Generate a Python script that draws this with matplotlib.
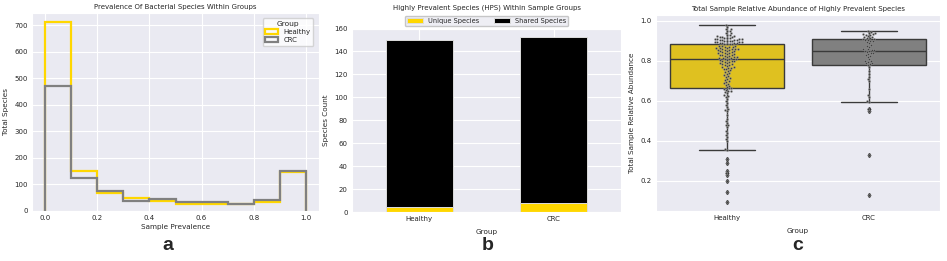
import matplotlib
matplotlib.use("Agg")
import matplotlib.pyplot as plt
import numpy as np
import pandas as pd
import seaborn as sns

# ---------------- data ----------------
bin_edges = [0.0, 0.1, 0.2, 0.3, 0.4, 0.5, 0.6, 0.7, 0.8, 0.9, 1.0]
healthy_counts = [711, 151, 68, 48, 38, 24, 24, 25, 33, 146]
crc_counts = [471, 123, 75, 37, 44, 34, 31, 24, 39, 151]

groups = ["Healthy", "CRC"]
unique_species = [5, 8]
shared_species = [145, 145]

healthy_abund = [
    0.095, 0.145, 0.20, 0.23, 0.24, 0.25, 0.29, 0.31,
    0.355, 0.36, 0.40, 0.41, 0.42, 0.43, 0.44, 0.45, 0.47, 0.48, 0.48, 0.49,
    0.50, 0.51, 0.53, 0.55, 0.555, 0.56, 0.57, 0.58, 0.59, 0.60, 0.61, 0.62,
    0.625, 0.63, 0.64, 0.645, 0.65, 0.65, 0.655, 0.658,
    0.662, 0.665, 0.67, 0.675, 0.68, 0.685, 0.69, 0.695, 0.70, 0.705,
    0.71, 0.715, 0.72, 0.725, 0.73, 0.735, 0.74, 0.745, 0.75, 0.755,
    0.76, 0.76, 0.765, 0.765, 0.77, 0.77, 0.775, 0.78, 0.78, 0.785,
    0.785, 0.79, 0.79, 0.795, 0.795, 0.80, 0.80, 0.80, 0.803, 0.805,
    0.81, 0.81, 0.81, 0.815, 0.815, 0.815, 0.82, 0.82, 0.82, 0.825,
    0.825, 0.83, 0.83, 0.83, 0.835, 0.835, 0.84, 0.84, 0.84, 0.845,
    0.845, 0.85, 0.85, 0.85, 0.855, 0.855, 0.855, 0.86, 0.86, 0.86,
    0.86, 0.865, 0.865, 0.865, 0.87, 0.87, 0.87, 0.875, 0.875, 0.875,
    0.885, 0.885, 0.885, 0.885, 0.89, 0.89, 0.89, 0.89, 0.895, 0.895,
    0.895, 0.895, 0.90, 0.90, 0.90, 0.90, 0.905, 0.905, 0.905, 0.905,
    0.91, 0.91, 0.91, 0.91, 0.915, 0.915, 0.915, 0.92, 0.92, 0.92,
    0.925, 0.925, 0.93, 0.93, 0.94, 0.94, 0.95, 0.95, 0.96, 0.96,
    0.97, 0.98,
]
crc_abund = [
    0.13, 0.33, 0.55, 0.56,
    0.595, 0.60, 0.62, 0.63, 0.66, 0.70, 0.71, 0.72, 0.735, 0.75, 0.77,
    0.78, 0.785, 0.79, 0.79, 0.795, 0.80, 0.80, 0.81, 0.82, 0.825,
    0.83, 0.835, 0.84, 0.84, 0.845,
    0.85, 0.85, 0.855, 0.855, 0.86, 0.86, 0.87, 0.875, 0.88, 0.89,
    0.895, 0.90, 0.90, 0.905, 0.905,
    0.91, 0.91, 0.915, 0.915, 0.92, 0.92, 0.925, 0.93, 0.93, 0.935,
    0.935, 0.94, 0.94, 0.945, 0.95,
]

# ---------------- style ----------------
sns.set_style("darkgrid")
plt.rcParams["font.family"] = ["DejaVu Sans"]
TICK = 5.0
LAB = 5.2
TIT = 5.0
plt.rcParams["xtick.labelsize"] = TICK
plt.rcParams["ytick.labelsize"] = TICK

W, H = 947, 261
fig = plt.figure(figsize=(W / 100, H / 100), dpi=100)


def axbox(l, t, r, b):
    return [l / W, 1 - b / H, (r - l) / W, (b - t) / H]


ax_a = fig.add_axes(axbox(32, 12.7, 319, 210.7))
ax_b = fig.add_axes(axbox(352, 28.5, 621, 212.3))
ax_c = fig.add_axes(axbox(656, 15, 940, 210.7))

# ---------------- panel a ----------------
ax_a.hist(bin_edges[:-1], bins=bin_edges, weights=healthy_counts,
          histtype="step", color="gold", lw=1.6, label="Healthy")
ax_a.hist(bin_edges[:-1], bins=bin_edges, weights=crc_counts,
          histtype="step", color="gray", lw=1.6, label="CRC")
ax_a.set_xticks([0.0, 0.2, 0.4, 0.6, 0.8, 1.0])
ax_a.set_title("Prevalence Of Bacterial Species Within Groups", fontsize=TIT, pad=3)
ax_a.set_xlabel("Sample Prevalence", fontsize=LAB, labelpad=2)
ax_a.set_ylabel("Total Species", fontsize=LAB, labelpad=4)
ax_a.legend(title="Group", fontsize=5.0, title_fontsize=5.4, loc="upper right",
            frameon=True, facecolor="white", edgecolor="#cccccc",
            handlelength=1.8, handleheight=0.7, borderpad=0.4, labelspacing=0.3,
            borderaxespad=0.8)
ax_a.tick_params(pad=3)

# ---------------- panel b ----------------
x = np.arange(len(groups))
ax_b.bar(x, unique_species, width=0.5, color="gold", edgecolor="#dddddd", lw=0.7,
         label="Unique Species")
ax_b.bar(x, shared_species, width=0.5, bottom=unique_species, color="black",
         edgecolor="#dddddd", lw=0.7, label="Shared Species")
ax_b.set_xticks(x)
ax_b.set_xticklabels(groups)
ax_b.set_xlim(-0.5, 1.5)
ax_b.set_ylim(0, 160)
ax_b.set_yticks(range(0, 161, 20))
ax_b.set_title("Highly Prevalent Species (HPS) Within Sample Groups", fontsize=TIT, pad=14)
ax_b.set_xlabel("Group", fontsize=LAB, labelpad=5)
ax_b.set_ylabel("Species Count", fontsize=LAB, labelpad=4)
ax_b.legend(loc="lower center", bbox_to_anchor=(0.5, 1.0), ncol=2, fontsize=4.8,
            frameon=True, facecolor="#eaeaf2", edgecolor="#bbbbbb",
            handlelength=2.4, handleheight=0.9, borderpad=0.3, columnspacing=2.2,
            borderaxespad=0.4)
ax_b.tick_params(pad=3)

# ---------------- panel c ----------------
df = pd.DataFrame({
    "Group": ["Healthy"] * len(healthy_abund) + ["CRC"] * len(crc_abund),
    "val": healthy_abund + crc_abund,
})
sns.boxplot(data=df, x="Group", y="val", order=groups, hue="Group",
            palette=["gold", "gray"], legend=False, ax=ax_c, linewidth=1.0,
            linecolor="#3a3a3a", width=0.8,
            flierprops=dict(marker="d", markersize=2.0, markerfacecolor="#3a3a3a",
                            markeredgecolor="#3a3a3a"))
sns.swarmplot(data=df, x="Group", y="val", order=groups, color=".25", size=1.5,
              ax=ax_c, linewidth=0.25, edgecolor="#aaaaaa")
ax_c.set_ylim(0.05, 1.0285)
ax_c.set_yticks([0.2, 0.4, 0.6, 0.8, 1.0])
ax_c.set_title("Total Sample Relative Abundance of Highly Prevalent Species",
               fontsize=TIT, pad=3)
ax_c.set_xlabel("Group", fontsize=LAB, labelpad=5)
ax_c.set_ylabel("Total Sample Relative Abundance", fontsize=LAB, labelpad=4)
ax_c.tick_params(pad=3)

for ax in (ax_a, ax_b, ax_c):
    ax.tick_params(length=0, colors="#262626")

# panel letters
for xp, letter in [(168, "a"), (488, "b"), (798, "c")]:
    fig.text(xp / W, 1 - 246 / H, letter, fontsize=14, fontweight="bold",
             family=["Liberation Sans", "DejaVu Sans"], ha="center", va="center")

fig.savefig("out.png", dpi=100)
